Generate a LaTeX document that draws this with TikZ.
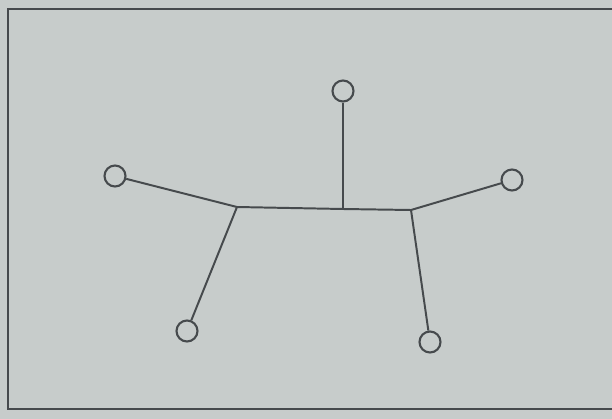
\documentclass[tikz,border=0pt]{standalone}
\usepackage{tikz}
\usetikzlibrary{positioning, calc}
\definecolor{pagegray} {RGB}{199, 204, 203}
\definecolor{inkgray}  {RGB}{ 70,  74,  77}
\tikzset{
	leaf/.style={circle, draw=inkgray, line width=3pt, minimum size=1.05cm, inner sep=0pt},
	edge/.style={draw=inkgray, line width=2.8pt}
}

\begin{document}
\begin{tikzpicture}[x=0.05cm, y=-0.05cm]
	\useasboundingbox (0,0) rectangle (612,419);
	\fill[pagegray] (0,0) rectangle (612,419);
	\draw[inkgray, line width=4pt] (640,9)--(8,9)--(8,409)--(640,409);
	% leaves
	\node[leaf] (top) at (343,91) {};
	\node[leaf] (lft) at (115,176) {};
	\node[leaf] (rgt) at (512,180) {};
	\node[leaf] (bl)  at (187,331) {};
	\node[leaf] (br)  at (430,342) {};
	% inner points
	\coordinate (a) at (237,207);
	\coordinate (b) at (343,209);
	\coordinate (c) at (411,210);
	\draw[edge] (lft)--(a)--(b)--(c)--(rgt);
	\draw[edge] (a)--(bl);
	\draw[edge] (b)--(top);
	\draw[edge] (c)--(br);
\end{tikzpicture}
\end{document}
